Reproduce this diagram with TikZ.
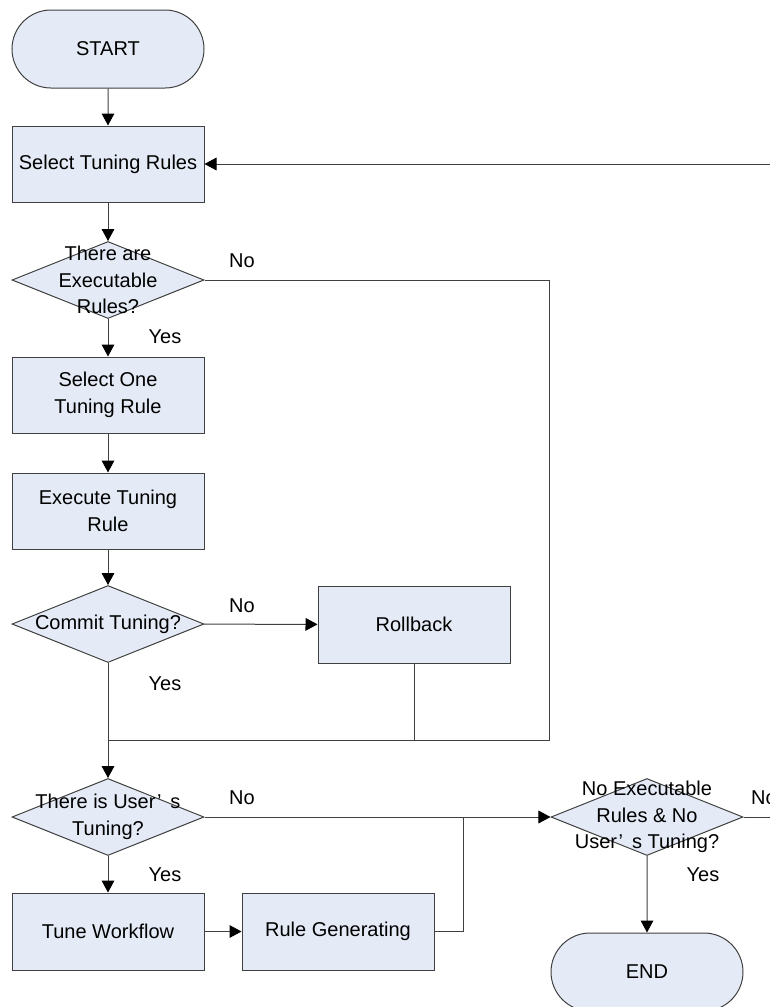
\documentclass[tikz,border=0pt]{standalone}
\usepackage{fontspec}
\setmainfont{Liberation Sans}
\usetikzlibrary{shapes.geometric,shapes.misc,arrows.meta}
\definecolor{boxfill}{HTML}{E4EBF6}
\definecolor{edge}{HTML}{404040}
% full-width apostrophe, as set by East Asian fonts
\newcommand{\wideapos}{\makebox[0.75em][l]{\hspace{0.08em}’}}

\begin{document}
\begin{tikzpicture}[x=0.75pt,y=-0.75pt,
  every node/.style={font=\fontsize{15}{20}\selectfont},
  proc/.style={rectangle,draw=edge,fill=boxfill,line width=0.75pt,
    minimum width=144pt,minimum height=57pt,inner sep=0pt,align=center},
  term/.style={rounded rectangle,draw=edge,fill=boxfill,line width=0.75pt,
    minimum width=144pt,minimum height=58.5pt,inner sep=0pt},
  dec/.style={diamond,draw=edge,fill=boxfill,line width=0.75pt,
    minimum width=144pt,minimum height=57.75pt,inner sep=0pt},
  dectext/.style={align=center,inner sep=0pt},
  flow/.style={draw=edge,line width=0.75pt,
    -{Triangle[length=9pt,width=9.5pt,color=black]}},
  wire/.style={draw=edge,line width=0.75pt},
  lbl/.style={inner sep=0pt}
]
\useasboundingbox (0,0) rectangle (770,1007);
\clip (0,0) rectangle (770,1007);

% shapes
\node[term] (start) at (108,49) {START};
\node[proc] (rules) at (108,164) {Select Tuning Rules};
\node[dec] (d1) at (108,280) {};
\node[dectext] (d1t) at (d1) {There are\\Executable\\Rules?};
\node[proc] (one) at (108,395) {Select One\\Tuning Rule};
\node[proc] (exec) at (108,511) {Execute Tuning\\Rule};
\node[dec] (commit) at (108,624) {};
\node[dectext] (committ) at (commit) {Commit Tuning?};
\node[proc,minimum height=57.75pt] (rollback) at (414,624.5) {Rollback};
\node[dec] (d3) at (108,817) {};
\node[dectext] (d3t) at (d3) {There is User\wideapos s\\Tuning?};
\node[dec] (d4) at (647,817) {};
\node[dectext] (d4t) at (d4) {No Executable\\Rules \& No\\User\wideapos s Tuning?};
\node[proc,minimum height=57.75pt] (tune) at (108,931.5) {Tune Workflow};
\node[proc,minimum height=57.75pt] (gen) at (338,931.5) {Rule Generating};
\node[term] (end) at (647,972) {END};

% helper points
\coordinate (loopin) at (780,164);
\coordinate (c1) at (549,280);
\coordinate (c2) at (549,740);
\coordinate (j1) at (108,740);
\coordinate (j2) at (463,817);
\coordinate (out2) at (780,817);

% connectors
\draw[flow] (start) -- (rules);
\draw[flow] (loopin) -- (rules);
\draw[flow] (rules) -- (d1);
\draw[wire] (d1.east) -- (c1) -- (c2) -- (j1);
\draw[flow] (d1) -- (one);
\draw[flow] (one) -- (exec);
\draw[flow] (exec) -- (commit);
\draw[flow] (commit) -- (rollback);
\draw[wire] (rollback.south) -- (rollback.south |- j1);
\draw[flow] (commit.south) -- (d3.north);
\draw[flow] (d3) -- (d4);
\draw[wire] (d4.east) -- (out2);
\draw[flow] (d3) -- (tune);
\draw[flow] (tune) -- (gen);
\draw[wire] (gen.east) -| (j2);
\draw[flow] (d4) -- (end);

% branch labels
\node[lbl] (n1) at (242,261) {No};
\node[lbl] (y1) at (165,337) {Yes};
\node[lbl] (n2) at (242,606) {No};
\node[lbl] (y2) at (165,684) {Yes};
\node[lbl] (n3) at (242,798) {No};
\node[lbl] (y3) at (165,875) {Yes};
\node[lbl] (n4) at (764,798) {No};
\node[lbl] (y4) at (703,875) {Yes};
\end{tikzpicture}
\end{document}
